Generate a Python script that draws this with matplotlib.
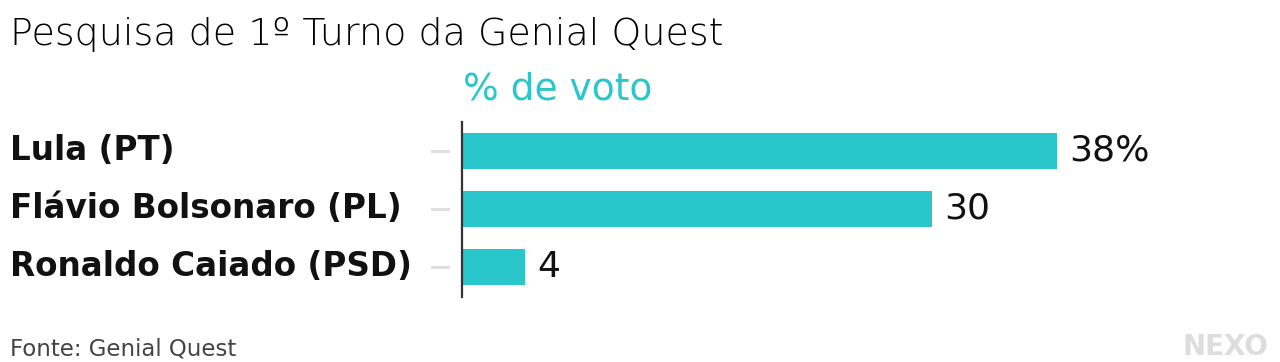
import matplotlib
matplotlib.use("Agg")
import matplotlib.pyplot as plt
import matplotlib.transforms as mtransforms

categories = ["Lula (PT)", "Flávio Bolsonaro (PL)", "Ronaldo Caiado (PSD)"]
values = [38, 30, 4]
value_labels = ["38%", "30", "4"]

title = "Pesquisa de 1º Turno da Genial Quest"
subtitle = "% de voto"
source = "Fonte: Genial Quest"
brand = "NEXO"

BAR = "#29c6cb"
FONT = "DejaVu Sans"

plt.rcParams["font.family"] = [FONT]

W, H = 1280, 362
fig = plt.figure(figsize=(W / 100, H / 100), dpi=100)
fig.patch.set_facecolor("white")

ax_left, ax_right = 462, 1260
ax_top, ax_bot = 122, 297
ax = fig.add_axes([ax_left / W, (H - ax_bot) / H, (ax_right - ax_left) / W, (ax_bot - ax_top) / H])

y = list(range(len(categories)))
ax.barh(y, values, height=0.62, color=BAR, zorder=2)
ax.set_xlim(0, (ax_right - ax_left) / 15.66)
ax.set_ylim(len(categories) - 0.48, -0.5)

for s in ["top", "right", "bottom"]:
    ax.spines[s].set_visible(False)
ax.spines["left"].set_color("#333333")
ax.spines["left"].set_linewidth(1.6)
ax.set_xticks([])
ax.set_yticks([])

trans = mtransforms.blended_transform_factory(fig.transFigure, ax.transData)
for yi, cat in zip(y, categories):
    ax.text(10 / W, yi, cat, transform=trans, ha="left", va="center",
            fontsize=23.5, fontweight="bold", color="#111111")
    ax.plot([432 / W, 448 / W], [yi, yi], transform=trans, color="#dddddd",
            lw=2, clip_on=False)

for yi, v, lab in zip(y, values, value_labels):
    ax.annotate(lab, (v, yi), xytext=(9, 0), textcoords="offset points",
                ha="left", va="center", fontsize=26, color="#111111")

fig.text(10 / W, 1 - 31 / H, title, ha="left", va="center_baseline", fontsize=27.4,
         fontweight=200, color="#000000")
fig.text(463 / W, 1 - 85 / H, subtitle, ha="left", va="center_baseline", fontsize=27,
         color=BAR)
fig.text(10 / W, 1 - 347 / H, source, ha="left", va="center_baseline", fontsize=16.5,
         color="#444444")
fig.text(1268 / W, 1 - 344 / H, brand, ha="right", va="center_baseline", fontsize=20,
         fontweight="heavy", color="#dddddd")

fig.savefig("out.png", dpi=100, facecolor="white")
